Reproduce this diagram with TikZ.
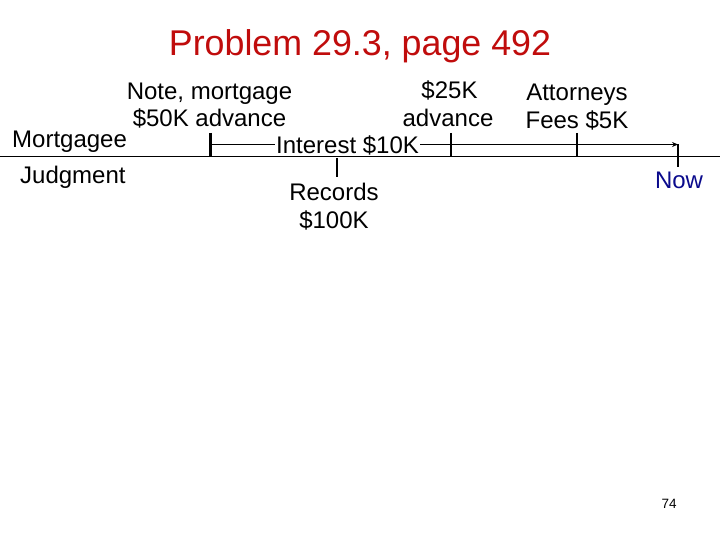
\documentclass[tikz,border=0pt]{standalone}
\usepackage{fontspec}
\setmainfont{Liberation Sans}
\usetikzlibrary{arrows.meta}
\definecolor{titlered}{RGB}{192,12,12}
\definecolor{nowblue}{RGB}{10,10,140}
\begin{document}
\begin{tikzpicture}[x=1pt,y=-1pt,
  lbl/.style={anchor=base,inner sep=0pt,font=\fontsize{24}{28}\selectfont},
  tick/.style={line width=2.6pt},
  tline/.style={line width=1.7pt}]
\useasboundingbox (0,0) rectangle (720,540);
% title
\node[anchor=base,inner sep=0pt,text=titlered,font=\fontsize{35.8}{40}\selectfont] (title) at (360,55.5) {Problem 29.3, page 492};
% base line
\coordinate (bl) at (0,156.5);
\coordinate (br) at (720,156.5);
\draw[line width=0.9pt] (bl) -- (br);
% labels
\node[lbl] (note1) at (209.5,99.5) {Note, mortgage};
\node[lbl] (note2) at (209.5,126.7) {\$50K advance};
\node[lbl,anchor=base west] (mtg) at (12,147.3) {Mortgagee};
\node[lbl,anchor=base west] (jdg) at (20,184) {Judgment};
\node[lbl,anchor=base west,inner xsep=1pt] (int) at (275,153.3) {Interest \$10K};
\node[lbl] (rec1) at (334,201) {Records};
\node[lbl] (rec2) at (334,229) {\$100K};
\node[lbl] (adv1) at (449.5,99) {\$25K};
\node[lbl] (adv2) at (448,126.7) {advance};
\node[lbl] (att1) at (577,100.5) {Attorneys};
\node[lbl] (att2) at (577,128.3) {Fees \$5K};
\node[lbl,text=nowblue] (now) at (679,189) {Now};
\node[anchor=base,inner sep=0pt,font=\fontsize{13.5}{16}\selectfont] (page) at (669,508) {74};
% timeline coordinates
\coordinate (t1) at (210.5,144.5);
\coordinate (t1b) at (210.5,156.5);
\coordinate (t1t) at (210.5,133);
\coordinate (t2t) at (451,133);
\coordinate (t2b) at (451,156.5);
\coordinate (t3t) at (577,133);
\coordinate (t3b) at (577,156.5);
\coordinate (nowt) at (678,144.5);
\coordinate (nowb) at (678,167);
\coordinate (rect) at (337,158);
\coordinate (recb) at (337,177);
% ticks
\draw[tick] (t1t) -- (t1b);
\draw[tick] (t2t) -- (t2b);
\draw[tick] (t3t) -- (t3b);
\draw[tick] (nowt) -- (nowb);
\draw[tick] (rect) -- (recb);
% timeline
\draw[line width=0.9pt] (t1) -- (t1 -| int.west);
\draw[tline,-{Stealth[length=6pt,width=5pt]}] (t1 -| int.east) -- (nowt);
\end{tikzpicture}
\end{document}
